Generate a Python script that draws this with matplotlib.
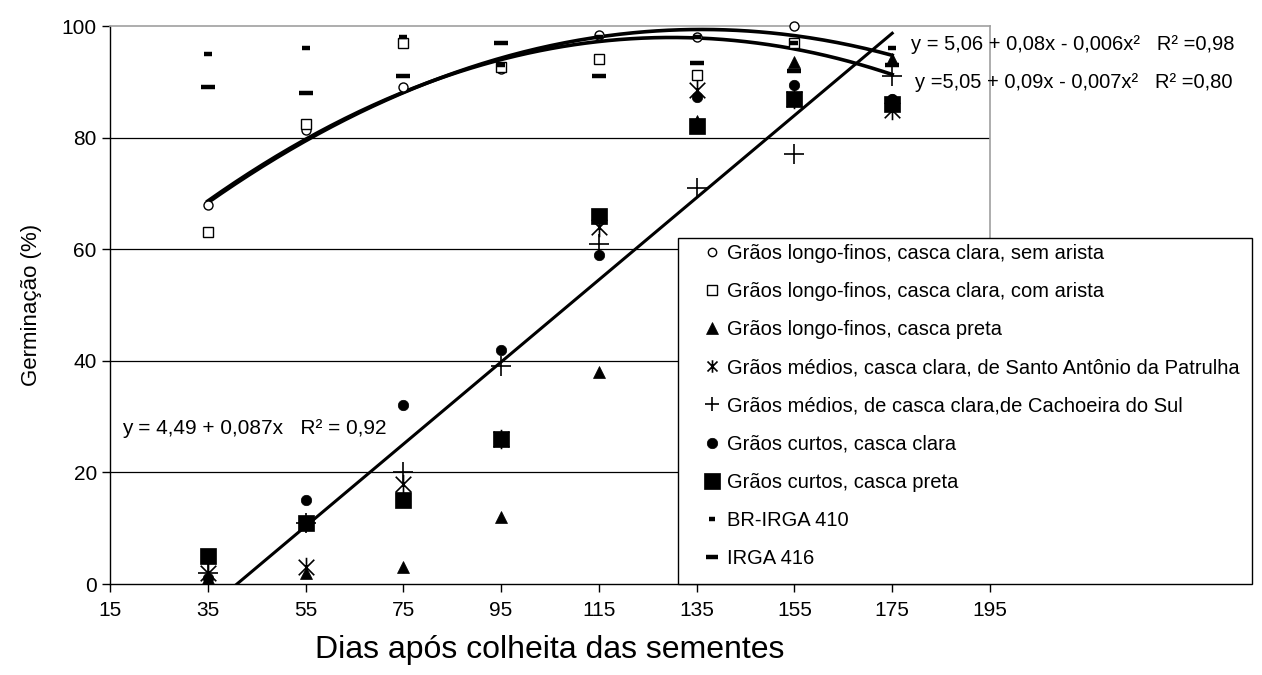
import numpy as np
import matplotlib
matplotlib.use('Agg')
import matplotlib.pyplot as plt
from matplotlib.path import Path
from matplotlib.lines import Line2D
from matplotlib.patches import Rectangle

plt.rcParams['font.family'] = ['Liberation Sans', 'DejaVu Sans']

days = [35, 55, 75, 95, 115, 135, 155, 175]
longo_sem_arista = [68, 81.4, 89, 92.3, 98.4, 98, 100, 87]
longo_com_arista = [63, 82.4, 97, 92.7, 94, 91.3, 97, 86]
longo_preta = [1, 2, 3, 12, 38, 83, 93.5, 94]
medios_santo_antonio = [2, 3, 18, 26, 64, 88.5, 87, 85]
medios_cachoeira = [2, 11, 20, 39, 61, 71, 77, 91]
curtos_clara = [1, 15, 32, 42, 59, 87.3, 89.4, 87]
curtos_preta = [5, 11, 15, 26, 66, 82, 87, 86]
br_irga_410 = [95, 96, 98, 93, 98, 98, 97, 96]
irga_416 = [89, 88, 91, 97, 91, 93.4, 92, 93]

# trend lines
trend_upper = [68, 80, 88, 94, 98.3, 99, 98.4, 94.8]
trend_lower = [68.5, 80, 88, 93.8, 97.5, 97.5, 96.2, 91.2]
lin_days = [35, 175]
lin_vals = [-4.4, 98.7]

labels = [
    "Grãos longo-finos, casca clara, sem arista",
    "Grãos longo-finos, casca clara, com arista",
    "Grãos longo-finos, casca preta",
    "Grãos médios, casca clara, de Santo Antônio da Patrulha",
    "Grãos médios, de casca clara,de Cachoeira do Sul",
    "Grãos curtos, casca clara",
    "Grãos curtos, casca preta",
    "BR-IRGA 410",
    "IRGA 416",
]

W, H = 1262, 675
fig = plt.figure(figsize=(W / 100, H / 100), dpi=100)
ax = fig.add_axes([110 / W, 91 / H, 880 / W, 558 / H])

star = Path([(-1, -1), (1, 1), (-1, 1), (1, -1), (0, -1.25), (0, 1.25)],
            [Path.MOVETO, Path.LINETO, Path.MOVETO, Path.LINETO, Path.MOVETO, Path.LINETO])

ax.set_xlim(15, 195)
ax.set_ylim(0, 100)
ax.set_xticks(range(15, 196, 20))
ax.set_yticks(range(0, 101, 20))
for yv in [20, 40, 60, 80]:
    ax.axhline(yv, color='black', lw=0.9, zorder=1)

# trend lines
xs = np.linspace(days[0], days[-1], 300)
cu = np.polyfit(days, trend_upper, 2)
cl = np.polyfit(days, trend_lower, 2)
cli = np.polyfit(lin_days, lin_vals, 1)
ax.plot(xs, np.polyval(cu, xs), color='black', lw=2.6, zorder=3)
ax.plot(xs, np.polyval(cl, xs), color='black', lw=2.6, zorder=3)
ax.plot(xs, np.polyval(cli, xs), color='black', lw=2.2, zorder=3)

series = [
    (longo_sem_arista, dict(marker='o', ms=6.5, mfc='white', mec='black', mew=1.0)),
    (longo_com_arista, dict(marker='s', ms=7, mfc='white', mec='black', mew=1.0)),
    (longo_preta, dict(marker='^', ms=8, mfc='black', mec='black', mew=0.5)),
    (medios_santo_antonio, dict(marker=star, ms=14, mfc='none', mec='black', mew=1.2)),
    (medios_cachoeira, dict(marker='+', ms=15, mec='black', mew=1.2)),
    (curtos_clara, dict(marker='o', ms=7.5, mfc='black', mec='black', mew=0.5)),
    (curtos_preta, dict(marker='s', ms=11.5, mfc='black', mec='black', mew=0.5)),
    (br_irga_410, dict(marker='_', ms=6, mec='black', mew=3.2)),
    (irga_416, dict(marker='_', ms=10, mec='black', mew=3.2)),
]
for vals, st in series:
    ax.plot(days, vals, ls='none', zorder=4, clip_on=False, **st)

# spines / ticks
for s in ['top', 'right']:
    ax.spines[s].set_color('#a0a0a0')
    ax.spines[s].set_linewidth(1.2)
for s in ['left', 'bottom']:
    ax.spines[s].set_color('black')
    ax.spines[s].set_linewidth(1.0)
ax.tick_params(axis='both', direction='out', length=6, width=1, labelsize=15, color='black')
ax.tick_params(axis='x', pad=6)

fig.text(32 / W, 1 - 305 / H, "Germinação (%)", fontsize=16, rotation=90, ha='center', va='center')
fig.text(550 / W, 1 - 650 / H, "Dias após colheita das sementes", fontsize=23, ha='center', va='center')

# equations
fig.text(122 / W, 1 - 428 / H, "y = 4,49 + 0,087x   R² = 0,92", fontsize=15, va='center', ha='left')
fig.text(911 / W, 1 - 45 / H, "y = 5,06 + 0,08x - 0,006x²   R² =0,98", fontsize=14.5, va='center', ha='left')
fig.text(915 / W, 1 - 82 / H, "y =5,05 + 0,09x - 0,007x²   R² =0,80", fontsize=14.5, va='center', ha='left')

# legend frame
fig.patches.append(Rectangle((678 / W, 91 / H), (1252 - 678) / W, (584 - 238) / H,
                             transform=fig.transFigure, facecolor='white',
                             edgecolor='black', lw=1.0, zorder=5))

# legend with proxy handles
leg_sizes = [6, 7, 8, 9, 10, 7.5, 12, 5, 8]
handles = []
for (vals, st), sz in zip(series, leg_sizes):
    st2 = dict(st)
    st2['ms'] = sz
    handles.append(Line2D([], [], ls='none', **st2))
leg = fig.legend(handles, labels, loc='upper left',
                 bbox_to_anchor=(702 / W, 1 - 244 / H), bbox_transform=fig.transFigure,
                 fontsize=14.5, frameon=False,
                 handlelength=1.0, handletextpad=0.25,
                 labelspacing=0.95, borderpad=0, borderaxespad=0)
leg.set_zorder(10)

fig.savefig('out.png', dpi=100)
